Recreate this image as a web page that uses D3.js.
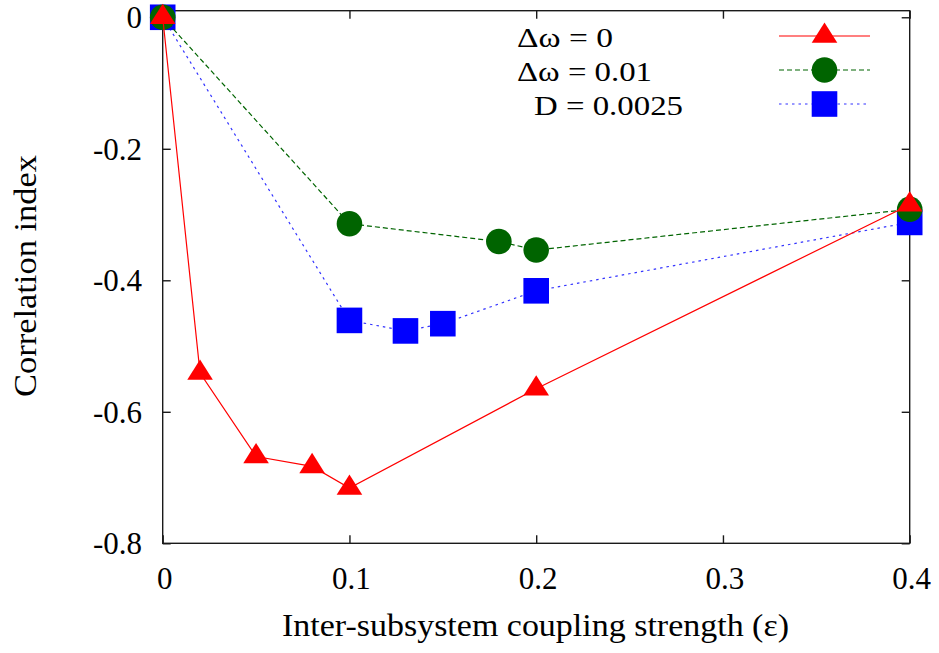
<!DOCTYPE html>
<html>
<head>
<meta charset="utf-8">
<script src="https://cdn.jsdelivr.net/npm/d3@7"></script>
<style>
  html, body { margin: 0; padding: 0; background: #fff; }
  svg text { font-family: "Liberation Serif", "Times New Roman", serif; fill: #000; }
</style>
</head>
<body>
<svg id="chart" width="939" height="653"></svg>
<script>
// ---- data ----
const xTicks = [0, 0.1, 0.2, 0.3, 0.4];
const yTicks = [0, -0.2, -0.4, -0.6, -0.8];
const xTickLabels = ["0", "0.1", "0.2", "0.3", "0.4"];
const yTickLabels = ["0", "-0.2", "-0.4", "-0.6", "-0.8"];

const redX = [0, 0.02, 0.05, 0.08, 0.1, 0.2, 0.4];
const redY = [0, -0.541, -0.668, -0.683, -0.716, -0.565, -0.285];

const greenX = [0, 0.1, 0.18, 0.2, 0.4];
const greenY = [0, -0.314, -0.341, -0.354, -0.292];

const blueX = [0, 0.1, 0.13, 0.15, 0.2, 0.4];
const blueY = [0, -0.461, -0.477, -0.466, -0.416, -0.312];

const legendLabels = ["Δω = 0", "Δω = 0.01", "D = 0.0025"];
const xTitle = "Inter-subsystem coupling strength (ε)";
const yTitle = "Correlation index";

// ---- layout ----
const FONT = "'Liberation Serif', 'Times New Roman', serif";
const svg = d3.select("#chart");
const L = 162.7, R = 909.7, T = 10.7, B = 543.3;
const x = d3.scaleLinear().domain([0, 0.4]).range([L, R]);
const y = d3.scaleLinear().domain([-0.8, 0.01]).range([B, T]);

const series = [
  { xs: blueX, ys: blueY, color: "#0000ff", dash: "2.5,4", marker: "square", lineColor: "#3333ff" },
  { xs: greenX, ys: greenY, color: "#006400", dash: "5,3", marker: "circle", lineColor: "#006400" },
  { xs: redX, ys: redY, color: "#ff0000", dash: null, marker: "triangle", lineColor: "#ff0000" }
];

function drawMarker(g, type, cx, cy, color) {
  if (type === "triangle") {
    g.append("path")
      .attr("d", `M${cx},${cy - 13.5} L${cx + 12.8},${cy + 6.8} L${cx - 12.8},${cy + 6.8} Z`)
      .attr("fill", color);
  } else if (type === "circle") {
    g.append("circle").attr("cx", cx).attr("cy", cy).attr("r", 12.8).attr("fill", color);
  } else {
    g.append("rect").attr("x", cx - 12.8).attr("y", cy - 12.8)
      .attr("width", 25.6).attr("height", 25.6).attr("fill", color);
  }
}

// axes frame
const axisColor = "#1a1a1a";
svg.append("rect").attr("x", L).attr("y", T).attr("width", R - L).attr("height", B - T)
  .attr("fill", "none").attr("stroke", axisColor).attr("stroke-width", 1.4);

// inward ticks on all four sides
const gxb = svg.append("g").attr("transform", `translate(0,${B})`)
  .call(d3.axisBottom(x).tickValues(xTicks).tickSize(-8).tickFormat(() => ""));
const gxt = svg.append("g").attr("transform", `translate(0,${T})`)
  .call(d3.axisTop(x).tickValues(xTicks).tickSize(-8).tickFormat(() => ""));
const gyl = svg.append("g").attr("transform", `translate(${L},0)`)
  .call(d3.axisLeft(y).tickValues(yTicks).tickSize(-8).tickFormat(() => ""));
const gyr = svg.append("g").attr("transform", `translate(${R},0)`)
  .call(d3.axisRight(y).tickValues(yTicks).tickSize(-8).tickFormat(() => ""));
[gxb, gxt, gyl, gyr].forEach(g => {
  g.select(".domain").remove();
  g.selectAll("text").remove();
  g.selectAll(".tick line").attr("stroke", axisColor).attr("stroke-width", 1.4);
});

// tick labels
svg.append("g").selectAll("text").data(xTicks).join("text")
  .attr("x", d => x(d) + 2).attr("y", 589)
  .attr("text-anchor", "middle").attr("font-size", 31).attr("font-family", FONT)
  .text((d, i) => xTickLabels[i]);
svg.append("g").selectAll("text").data(yTicks).join("text")
  .attr("x", 142).attr("y", d => y(d) + 11)
  .attr("text-anchor", "end").attr("font-size", 31).attr("font-family", FONT)
  .text((d, i) => yTickLabels[i]);

// axis titles
svg.append("text").attr("x", 282).attr("y", 636)
  .attr("font-size", 31).attr("font-family", FONT)
  .attr("textLength", 507).attr("lengthAdjust", "spacingAndGlyphs")
  .text(xTitle);
svg.append("text").attr("transform", "translate(36,397) rotate(-90)")
  .attr("font-size", 31).attr("font-family", FONT)
  .attr("textLength", 242).attr("lengthAdjust", "spacingAndGlyphs")
  .text(yTitle);

// series
series.forEach(s => {
  const pts = s.xs.map((v, i) => [x(v), y(s.ys[i])]);
  const line = svg.append("path")
    .attr("d", d3.line()(pts))
    .attr("fill", "none").attr("stroke", s.lineColor).attr("stroke-width", 1.2);
  if (s.dash) line.attr("stroke-dasharray", s.dash);
  const g = svg.append("g");
  pts.forEach(p => drawMarker(g, s.marker, p[0], p[1], s.color));
});

// legend
const legendRows = [
  { label: legendLabels[0], tx: 517, len: 96, s: series[2] },
  { label: legendLabels[1], tx: 517, len: 135, s: series[1] },
  { label: legendLabels[2], tx: 534, len: 149, s: series[0] }
];
legendRows.forEach((r, i) => {
  const cy = 36 + i * 34;
  svg.append("text").attr("x", r.tx).attr("y", cy + 11)
    .attr("font-size", 28).attr("font-family", FONT)
    .attr("textLength", r.len).attr("lengthAdjust", "spacingAndGlyphs")
    .text(r.label);
  const ln = svg.append("line").attr("x1", 779).attr("x2", 870).attr("y1", cy).attr("y2", cy)
    .attr("stroke", r.s.lineColor).attr("stroke-width", 1.2);
  if (r.s.dash) ln.attr("stroke-dasharray", r.s.dash);
  drawMarker(svg, r.s.marker, 824.5, cy, r.s.color);
});
</script>
</body>
</html>
